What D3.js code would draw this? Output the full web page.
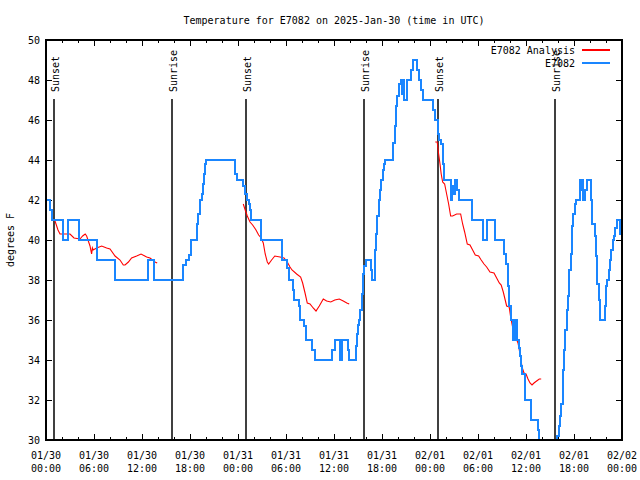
<!DOCTYPE html>
<html><head><meta charset="utf-8">
<script src="https://cdn.jsdelivr.net/npm/d3@7"></script>
<style>body{margin:0;background:#fff} text{font-family:"DejaVu Sans Mono",monospace;font-size:10px;fill:#000}</style>
</head><body>
<svg id="c" width="640" height="480"></svg>
<script>
// ---- data ----
const titleText = "Temperature for E7082 on 2025-Jan-30 (time in UTC)";
const yLabel = "degrees F";
const startUTC = Date.UTC(2025, 0, 30, 0, 0);
const xMajorHours = [0, 6, 12, 18, 24, 30, 36, 42, 48, 54, 60, 66, 72];
const xTickDates = ["01/30","01/30","01/30","01/30","01/31","01/31","01/31","01/31","02/01","02/01","02/01","02/01","02/02"];
const xTickTimes = ["00:00","06:00","12:00","18:00","00:00","06:00","12:00","18:00","00:00","06:00","12:00","18:00","00:00"];
const yTickValues = [30, 32, 34, 36, 38, 40, 42, 44, 46, 48, 50];
const sunHours = [1.04, 15.79, 25.04, 39.79, 49.04, 63.66];
const sunLabels = ["Sunset", "Sunrise", "Sunset", "Sunrise", "Sunset", "Sunrise"];
const seriesNames = ["E7082 Analysis", "E7082"];

// observed station series (hours since start, deg F), drawn as steps
const obsHours = [0,0.5,0.75,2.1,2.7,4.1,6.4,8.6,12.8,13.55,17.15,17.45,17.9,18.1,18.85,19.04,19.25,19.46,19.58,19.75,19.87,19.96,
 23.63,23.9,24.66,24.9,25.08,25.33,25.5,25.66,26.9,29.45,30.15,30.4,30.85,30.95,31.6,31.7,32.3,32.45,33.3,33.6,35.8,36.1,36.75,37.0,
 37.75,37.9,38.7,38.85,39.0,39.15,39.3,39.5,39.65,39.8,39.95,40.65,40.8,41.16,41.25,41.4,41.6,41.75,41.9,42.08,42.25,42.4,42.58,
 43.4,43.58,43.75,43.9,44.16,44.33,44.55,44.65,44.8,45.08,45.67,45.92,46.4,46.67,46.83,47.08,48.4,48.66,49.0,49.08,49.41,49.58,49.75,
 50.58,50.75,50.9,51.16,51.4,51.58,53.25,54.58,55.16,56.1,57.25,57.5,57.75,57.9,58.08,58.4,58.66,58.9,59.08,59.25,59.4,59.5,59.9,
 60.66,61.5,61.66,61.85,62.2,63.4,63.9,64.08,64.25,64.4,64.58,64.75,64.9,65.08,65.25,65.4,65.58,65.75,65.9,66.08,66.25,66.75,66.9,
 67.0,67.08,67.4,67.66,68.08,68.25,68.58,68.75,68.9,69.08,69.25,69.83,70.0,70.16,70.33,70.5,70.66,70.83,71.0,71.16,71.33,71.75,72];
const obsTemps = [42,41.5,41,40,41,40,39,38,39,38,38.75,39,39.25,40,40.8,41.3,42,42.3,42.8,43.3,43.8,44,
 43.3,43,42.7,42.3,42,41.8,41.5,41,40,39,38.6,38,37.5,37,36.7,36,35.7,35,34.5,34,34.5,35,34,35,
 34.5,34,34.7,35.3,35.75,36,36.5,37.3,38.3,38.7,39,38.5,38,39.5,40.3,41.2,42,42.5,43,43.5,43.8,44,44,
 44.85,45.7,46.7,47.2,47.8,48,47.3,48,47,48,48.5,49,48.5,48,47.5,47,46.5,46,45.3,45,44.8,43.8,43,
 42,42.7,42.3,43,42.5,42,41,40,41,40,39.3,38.8,37.7,36.7,36,35,36,35,34.6,34.2,33.7,33.3,32,
 31,30.5,30,29.3,28.8,29.4,30.2,30.7,31.2,31.8,33.5,34.5,35.5,36.5,37.2,38.5,39.3,40.7,41.3,41.8,42,43,42.5,
 43,42,42.5,43,42,40.8,40.2,39.2,37.8,37,36,36.7,37.7,38,38.5,39,39.5,40,40.2,40.6,41,40.3,40.3];

// analysis series, three separate runs (hours, deg F)
const anaHours1 = [1.08,1.25,1.5,1.75,3.0,3.5,4.25,4.58,4.9,5.08,5.5,5.7,5.8,5.9,6.33,6.96,7.58,8.0,8.63,9.25,9.66,9.88,10.3,10.7,11.33,11.88,12.58,13.0,13.63,13.9];
const anaTemps1 = [41.0,40.8,40.5,40.3,40.3,40.1,40.05,40.2,40.3,40.2,39.7,39.3,39.6,39.5,39.6,39.7,39.6,39.55,39.2,39.0,38.75,38.75,38.9,39.1,39.2,39.3,39.15,39.1,38.9,38.85];
const anaHours2 = [24.66,24.9,25.16,25.5,25.83,26.25,26.58,26.9,27.16,27.4,27.66,27.83,28.2,28.6,29.25,29.75,30.16,30.5,30.75,31.33,31.83,32.08,32.38,32.66,33.0,33.4,33.75,34.16,34.66,35.08,35.6,36.1,36.66,37.16,37.6,37.9];
const anaTemps2 = [41.8,41.5,41.2,40.9,40.75,40.5,40.25,40.1,39.85,39.3,38.9,38.8,39.0,39.2,39.15,39.1,38.9,38.65,38.5,38.3,38.15,37.85,37.35,36.85,36.8,36.6,36.45,36.7,37.05,36.95,36.9,37.0,37.05,36.95,36.85,36.8];
const anaHours3 = [48.66,48.9,49.08,49.25,49.4,49.58,49.83,50.08,50.33,50.58,50.83,51.33,51.83,52.08,52.33,52.66,53.0,53.33,53.66,54.08,54.4,54.75,55.08,55.5,56.0,56.33,56.66,56.9,57.16,57.4,57.58,57.9,58.08,58.33,58.58,58.75,59.0,59.16,59.33,59.5,59.75,60.0,60.25,60.5,60.75,61.0,61.33,61.66,61.9];
const anaTemps3 = [44.9,44.9,44.3,43.8,43.3,42.9,42.8,42.3,41.8,41.2,41.2,41.3,41.3,40.8,40.4,39.8,39.75,39.5,39.25,39.2,39.0,38.8,38.65,38.4,38.35,38.1,37.85,37.75,37.4,37.0,36.7,36.65,36.15,35.65,35.35,35.1,34.85,34.5,34.15,33.65,33.35,33.3,33.05,32.85,32.75,32.85,32.95,33.05,33.05];

// ---- chart ----
const L = 46, R = 622, T = 40, B = 440;
const toDate = h => new Date(startUTC + h * 3600e3);
const svg = d3.select("#c");
const x = d3.scaleUtc().domain([toDate(0), toDate(72)]).range([L, R]);
const y = d3.scaleLinear().domain([30, 50]).range([B, T]);
const blue = "#1a86ff", red = "#ff0000";

svg.append("defs").append("clipPath").attr("id", "clip")
  .append("rect").attr("x", L).attr("y", T).attr("width", R - L).attr("height", B - T);

// minor ticks every 2 h, major every 6 h (inward, all four sides)
const minorDates = d3.range(0, 73, 2).filter(h => h % 6 !== 0).map(toDate);
const majorDates = xMajorHours.map(toDate);
const addX = (axisFn, ypos, vals, size) => svg.append("g").attr("transform", `translate(0,${ypos})`)
  .call(axisFn(x).tickValues(vals).tickSize(size).tickFormat(""))
  .call(g => g.select(".domain").remove())
  .call(g => g.selectAll("line").attr("stroke", "#000").attr("shape-rendering", "crispEdges"));
addX(d3.axisBottom, B, minorDates, -3);
addX(d3.axisBottom, B, majorDates, -6);
addX(d3.axisTop, T, minorDates, -3);
addX(d3.axisTop, T, majorDates, -6);
const addY = (axisFn, xpos) => svg.append("g").attr("transform", `translate(${xpos},0)`)
  .call(axisFn(y).tickValues(yTickValues).tickSize(-6).tickFormat(""))
  .call(g => g.select(".domain").remove())
  .call(g => g.selectAll("line").attr("stroke", "#000").attr("shape-rendering", "crispEdges"));
addY(d3.axisLeft, L);
addY(d3.axisRight, R);

// tick labels
const xl = svg.append("g");
xMajorHours.forEach((h, i) => {
  const t = xl.append("text").attr("x", x(toDate(h))).attr("text-anchor", "middle");
  t.append("tspan").attr("x", x(toDate(h))).attr("y", 459).text(xTickDates[i]);
  t.append("tspan").attr("x", x(toDate(h))).attr("y", 472).text(xTickTimes[i]);
});
svg.append("g").selectAll("text").data(yTickValues).join("text")
  .attr("x", 40).attr("y", d => y(d) + 4).attr("text-anchor", "end").text(d => d);

// title and axis label
svg.append("text").attr("x", (L + R) / 2).attr("y", 24).attr("text-anchor", "middle").text(titleText);
svg.append("text").attr("transform", `translate(14,${(T + B) / 2}) rotate(-90)`).attr("text-anchor", "middle").text(yLabel);

// sunrise / sunset lines
sunHours.forEach((h, i) => {
  const xp = Math.round(x(toDate(h)));
  svg.append("line").attr("x1", xp).attr("x2", xp).attr("y1", 99).attr("y2", B)
    .attr("stroke", "#000").attr("stroke-width", 1.5);
  svg.append("text").attr("transform", `translate(${xp + 5},92) rotate(-90)`).attr("text-anchor", "start").text(sunLabels[i]);
});

// series
const plot = svg.append("g").attr("clip-path", "url(#clip)");
const stepLine = d3.line().x(d => x(toDate(d[0]))).y(d => y(d[1])).curve(d3.curveStepAfter);
const lin = d3.line().x(d => x(toDate(d[0]))).y(d => y(d[1]));
const obs = obsHours.map((h, i) => [h, obsTemps[i]]);
[[anaHours1, anaTemps1], [anaHours2, anaTemps2], [anaHours3, anaTemps3]].forEach(([hs, ts]) => {
  plot.append("path").datum(hs.map((h, i) => [h, ts[i]])).attr("d", lin)
    .attr("fill", "none").attr("stroke", red).attr("stroke-width", 1.1);
});
plot.append("path").datum(obs).attr("d", stepLine)
  .attr("fill", "none").attr("stroke", blue).attr("stroke-width", 2).attr("shape-rendering", "crispEdges");

// legend
const lg = svg.append("g");
[[seriesNames[0], red, 50], [seriesNames[1], blue, 63]].forEach(([name, col, yy]) => {
  lg.append("text").attr("x", 575).attr("y", yy + 4).attr("text-anchor", "end").text(name);
  lg.append("line").attr("x1", 582).attr("x2", 610).attr("y1", yy).attr("y2", yy)
    .attr("stroke", col).attr("stroke-width", 1.5).attr("shape-rendering", "crispEdges");
});

// border
svg.append("rect").attr("x", L).attr("y", T).attr("width", R - L).attr("height", B - T)
  .attr("fill", "none").attr("stroke", "#000").attr("stroke-width", 1.2).attr("shape-rendering", "crispEdges");
</script>
</body></html>
